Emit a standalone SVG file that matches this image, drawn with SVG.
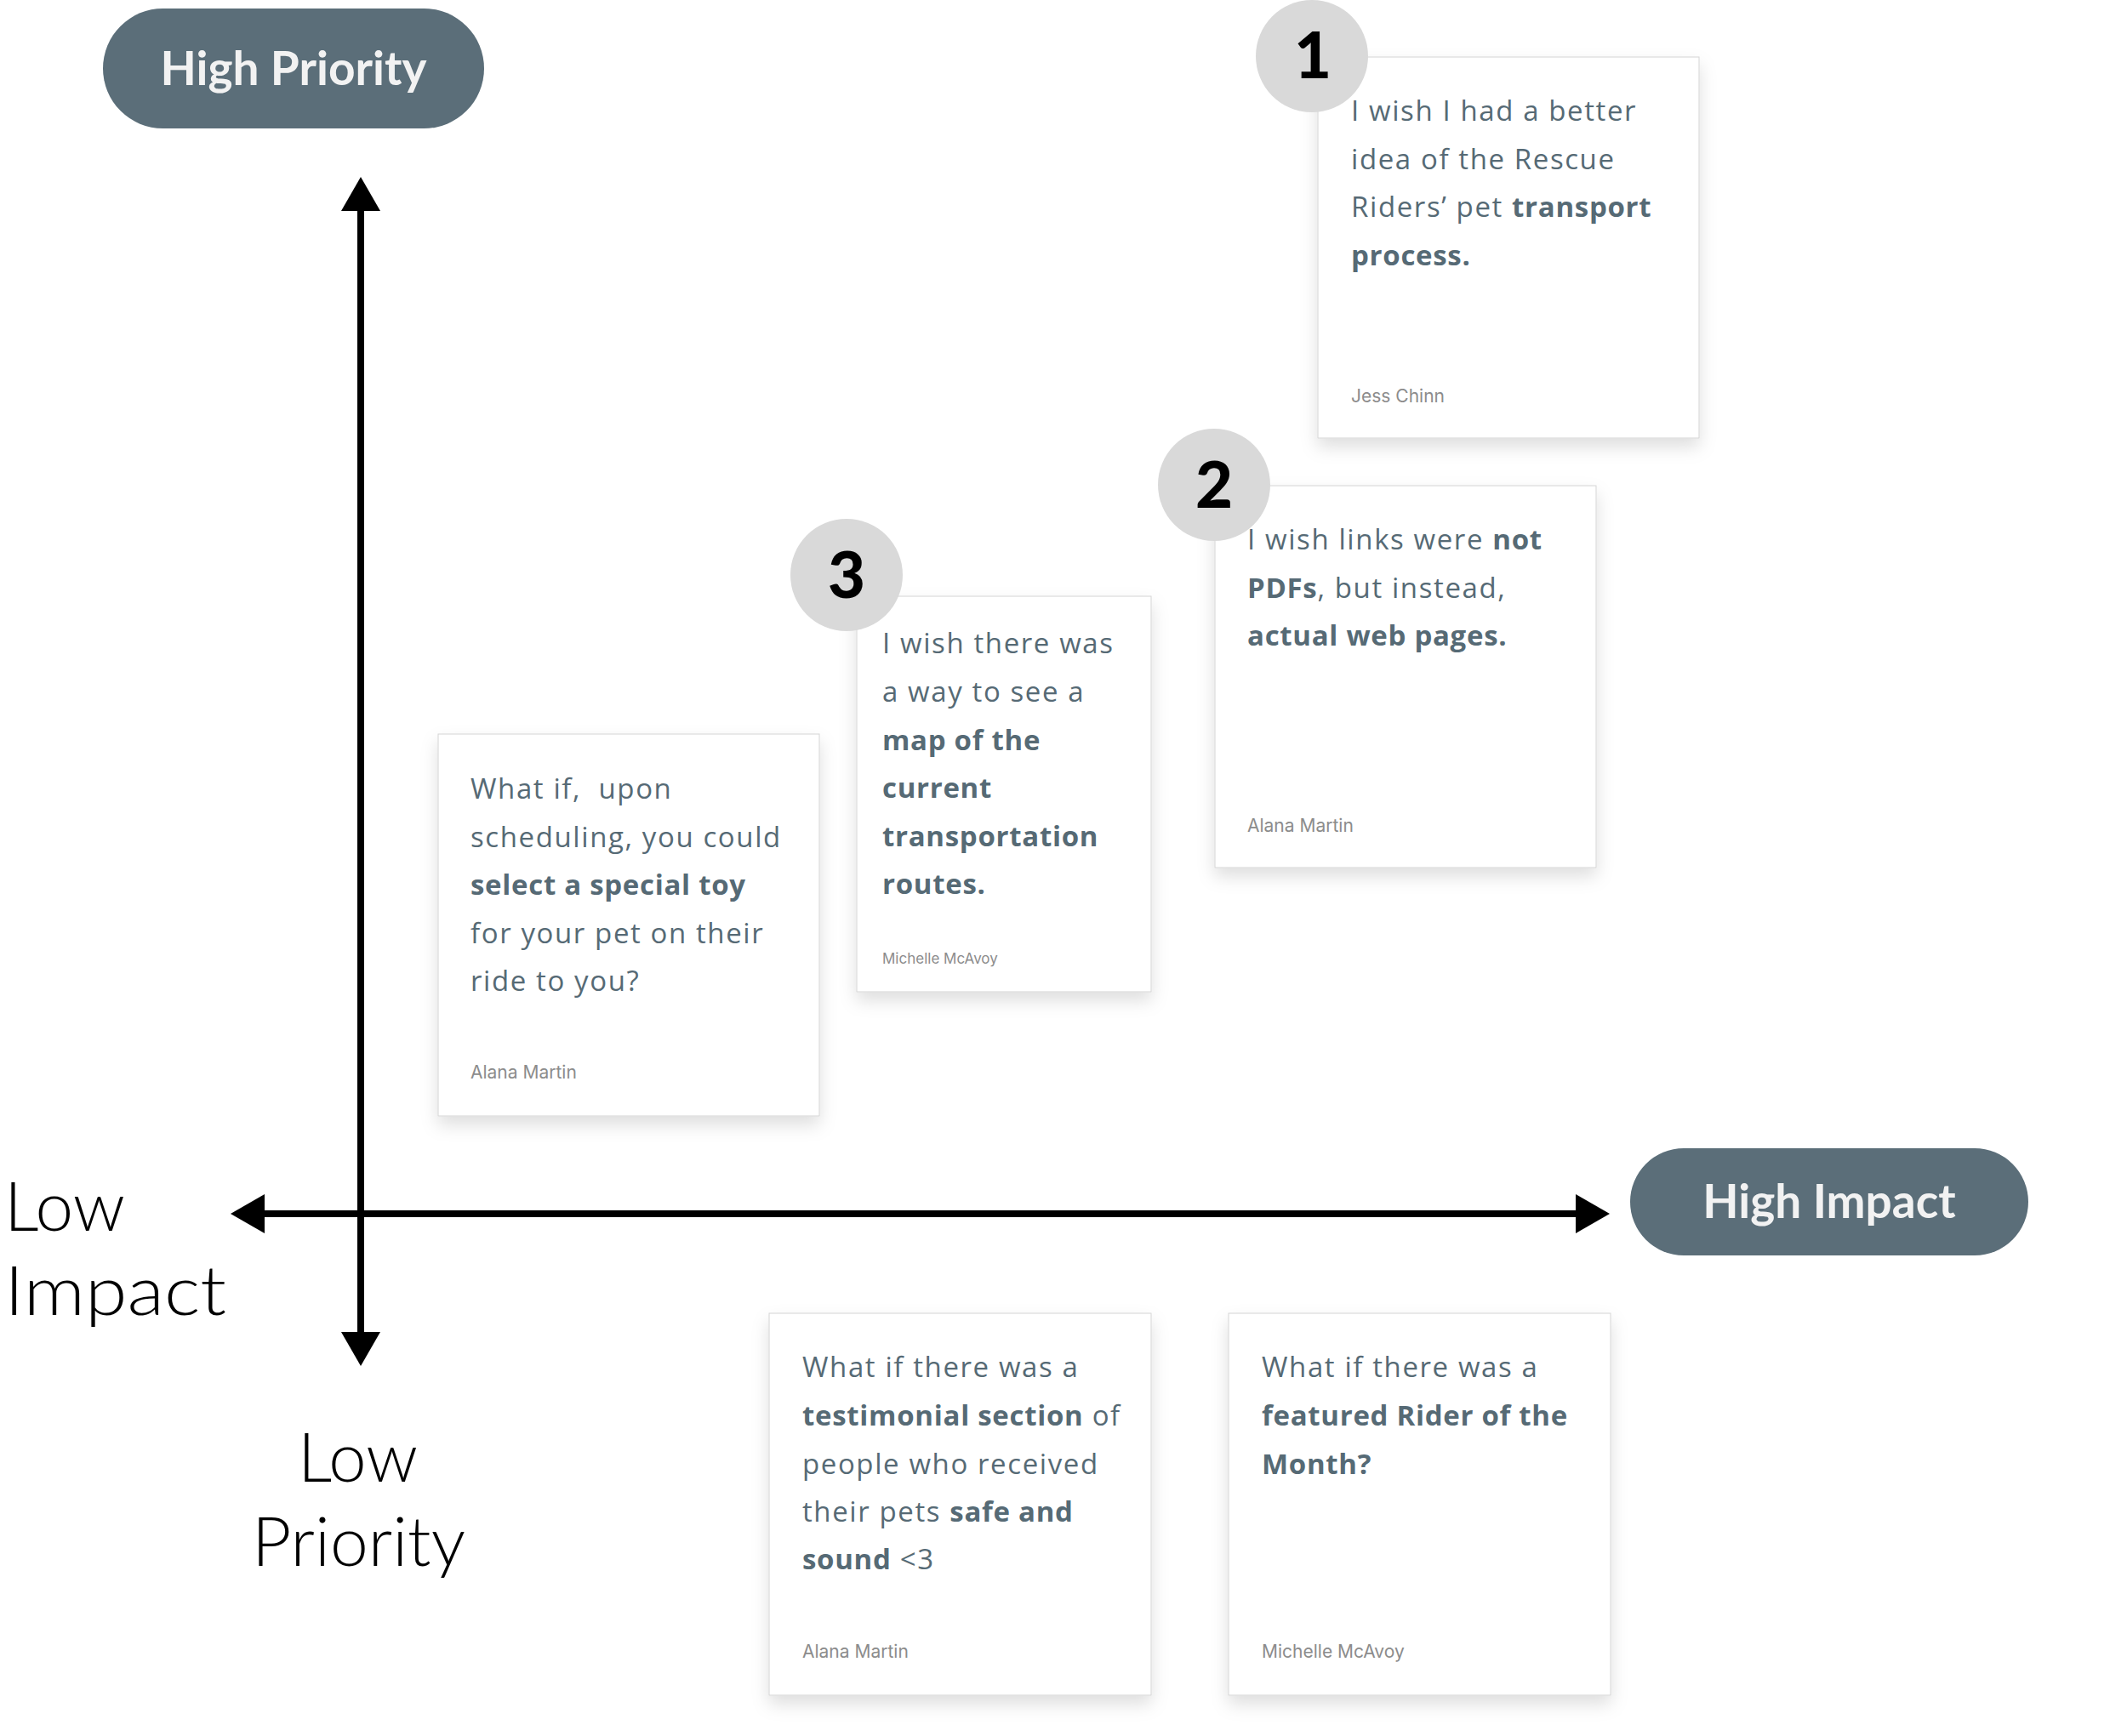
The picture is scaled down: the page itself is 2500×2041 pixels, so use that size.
<svg xmlns="http://www.w3.org/2000/svg" width="2500" height="2041" viewBox="0 0 2500 2041">
  <defs>
    <marker id="arrow" markerUnits="userSpaceOnUse" markerWidth="42" markerHeight="48" refX="0" refY="23" orient="auto-start-reverse" overflow="visible">
      <path d="M0,0 L40,23 L0,46 Z" fill="#000"/>
    </marker>
    <filter id="shadow" x="-20%" y="-20%" width="140%" height="150%">
      <feDropShadow dx="0" dy="10" stdDeviation="10" flood-color="#000" flood-opacity="0.13"/>
    </filter>
  </defs>
  <style>
    .pill { fill: #5b6e79; }
    .pilltext { font-family: "Lato", "Liberation Sans", sans-serif; font-weight: 700; font-size: 55px; fill: #f2f2f2; text-anchor: middle; }
    .card { fill: #ffffff; stroke: #d4d4d4; stroke-width: 1; filter: url(#shadow); }
    .body { font-family: "Open Sans", "Liberation Sans", sans-serif; font-size: 33px; fill: #566a75; letter-spacing: 1.6px; }
    .b { font-weight: 700; letter-spacing: 0.7px; }
    .author { font-family: "Inter", "Liberation Sans", sans-serif; font-size: 21px; fill: #8c8c8c; }
    .author-sm { font-size: 17px; }
    .badge { fill: #d9d9d9; }
    .num { font-family: "Lato", "Liberation Sans", sans-serif; font-weight: 900; font-size: 76px; fill: #000; text-anchor: middle; }
    .axislabel { font-family: "Lato", "Liberation Sans", sans-serif; font-weight: 300; font-size: 80px; fill: #000; }
    .axis { stroke: #000; stroke-width: 8; fill: none; }
  </style>
  <rect width="2500" height="2041" fill="#ffffff"/>

  <g id="connectors">
    <line class="axis" x1="424" y1="248" x2="424" y2="1566" marker-start="url(#arrow)" marker-end="url(#arrow)"/>
    <line class="axis" x1="311" y1="1427" x2="1852" y2="1427" marker-start="url(#arrow)" marker-end="url(#arrow)"/>
  </g>

  <g id="high-priority">
    <rect class="pill" x="121" y="10" width="448" height="141" rx="70.5"/>
    <text class="pilltext" x="345" y="100">High Priority</text>
  </g>

  <g id="high-impact">
    <rect class="pill" x="1916" y="1350" width="468" height="126" rx="63"/>
    <text class="pilltext" x="2150" y="1432">High Impact</text>
  </g>

  <g id="low-impact">
    <text class="axislabel" x="5" y="1447" textLength="142" lengthAdjust="spacingAndGlyphs">Low</text>
    <text class="axislabel" x="5" y="1546" textLength="261" lengthAdjust="spacingAndGlyphs">Impact</text>
  </g>

  <g id="low-priority">
    <text class="axislabel" x="350" y="1742" textLength="141" lengthAdjust="spacingAndGlyphs">Low</text>
    <text class="axislabel" x="296" y="1841" textLength="251" lengthAdjust="spacingAndGlyphs">Priority</text>
  </g>

  <g id="card-1">
    <rect class="card" x="1549" y="67" width="448" height="448"/>
    <text class="body" x="1588" y="142">I wish I had a better</text>
    <text class="body" x="1588" y="199">idea of the Rescue</text>
    <text class="body" x="1588" y="255">Riders’ pet <tspan class="b">transport</tspan></text>
    <text class="body b" x="1588" y="312">process.</text>
    <text class="author" x="1588" y="473">Jess Chinn</text>
    <circle class="badge" cx="1542" cy="66" r="66"/>
    <text class="num" x="1543" y="92">1</text>
  </g>

  <g id="card-2">
    <rect class="card" x="1428" y="571" width="448" height="449"/>
    <text class="body" x="1466" y="646">I wish links were <tspan class="b">not</tspan></text>
    <text class="body" x="1466" y="703"><tspan class="b">PDFs</tspan>, but instead,</text>
    <text class="body b" x="1466" y="759">actual web pages.</text>
    <text class="author" x="1466" y="978">Alana Martin</text>
    <circle class="badge" cx="1427" cy="570" r="66"/>
    <text class="num" x="1427" y="597">2</text>
  </g>

  <g id="card-3">
    <rect class="card" x="1007" y="701" width="346" height="465"/>
    <text class="body" x="1037" y="768">I wish there was</text>
    <text class="body" x="1037" y="825">a way to see a</text>
    <text class="body b" x="1037" y="882">map of the</text>
    <text class="body b" x="1037" y="938">current</text>
    <text class="body b" x="1037" y="995">transportation</text>
    <text class="body b" x="1037" y="1051">routes.</text>
    <text class="author author-sm" x="1037" y="1133">Michelle McAvoy</text>
    <circle class="badge" cx="995" cy="676" r="66"/>
    <text class="num" x="995" y="703">3</text>
  </g>

  <g id="card-toy">
    <rect class="card" x="515" y="863" width="448" height="449"/>
    <text class="body" x="553" y="939" xml:space="preserve">What if,  upon</text>
    <text class="body" x="553" y="996">scheduling, you could</text>
    <text class="body b" x="553" y="1052">select a special toy</text>
    <text class="body" x="553" y="1109">for your pet on their</text>
    <text class="body" x="553" y="1165">ride to you?</text>
    <text class="author" x="553" y="1268">Alana Martin</text>
  </g>

  <g id="card-testimonial">
    <rect class="card" x="904" y="1544" width="449" height="449"/>
    <text class="body" x="943" y="1619">What if there was a</text>
    <text class="body" x="943" y="1676"><tspan class="b">testimonial section</tspan> of</text>
    <text class="body" x="943" y="1733">people who received</text>
    <text class="body" x="943" y="1789">their pets <tspan class="b">safe and</tspan></text>
    <text class="body" x="943" y="1845"><tspan class="b">sound</tspan> &lt;3</text>
    <text class="author" x="943" y="1949">Alana Martin</text>
  </g>

  <g id="card-rider">
    <rect class="card" x="1444" y="1544" width="449" height="449"/>
    <text class="body" x="1483" y="1619">What if there was a</text>
    <text class="body b" x="1483" y="1676">featured Rider of the</text>
    <text class="body b" x="1483" y="1733">Month?</text>
    <text class="author" x="1483" y="1949">Michelle McAvoy</text>
  </g>
</svg>
